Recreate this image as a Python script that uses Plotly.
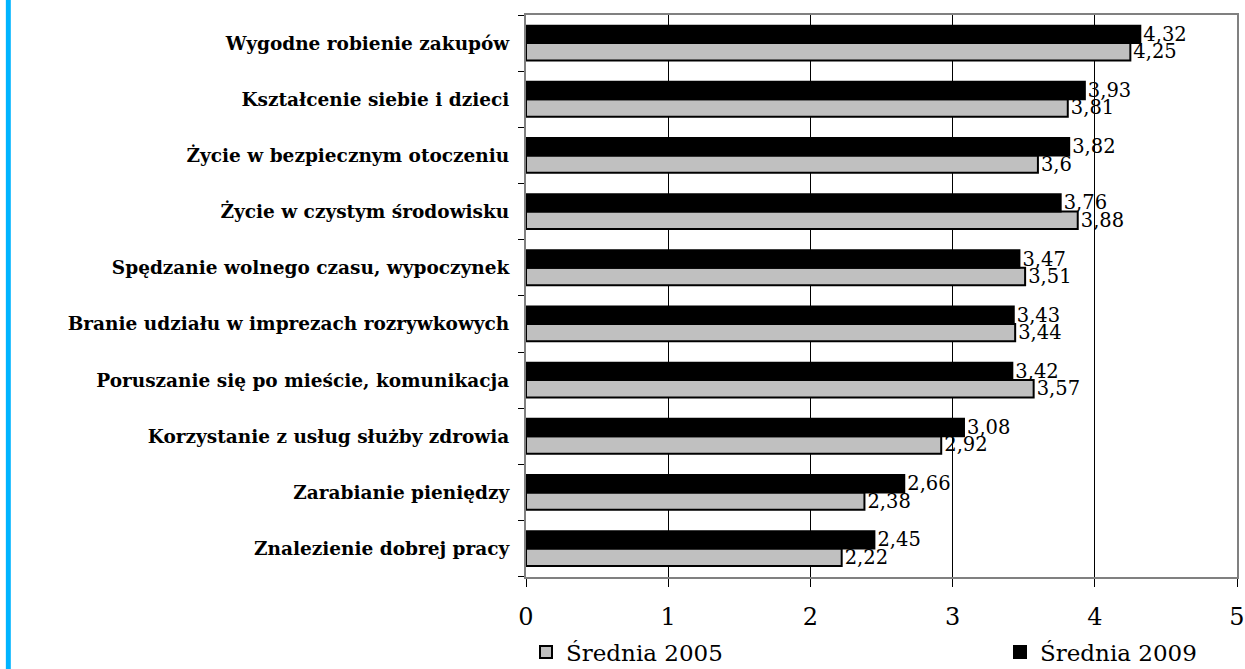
import plotly.graph_objects as go

# Data (top to bottom as in the reference)
categories = [
    "Wygodne robienie zakupów",
    "Kształcenie siebie i dzieci",
    "Życie w bezpiecznym otoczeniu",
    "Życie w czystym środowisku",
    "Spędzanie wolnego czasu, wypoczynek",
    "Branie udziału w imprezach rozrywkowych",
    "Poruszanie się po mieście, komunikacja",
    "Korzystanie z usług służby zdrowia",
    "Zarabianie pieniędzy",
    "Znalezienie dobrej pracy",
]
srednia_2005 = [4.25, 3.81, 3.6, 3.88, 3.51, 3.44, 3.57, 2.92, 2.38, 2.22]
srednia_2009 = [4.32, 3.93, 3.82, 3.76, 3.47, 3.43, 3.42, 3.08, 2.66, 2.45]
x_ticks = [0, 1, 2, 3, 4, 5]
series_names = ["Średnia 2005", "Średnia 2009"]

def fmt(v):
    return str(v).replace(".", ",")

cats = categories[::-1]
v05 = srednia_2005[::-1]
v09 = srednia_2009[::-1]

SERIF = "DejaVu Serif"
W, H = 1245, 669
ML, MR, MT, MB = 526, 0, 15, 92
PW = W - ML - MR
PH = H - MT - MB

fig = go.Figure()
fig.add_trace(go.Bar(
    y=cats, x=v05, orientation="h", name=series_names[0], legend="legend",
    marker=dict(color="#C0C0C0", line=dict(color="black", width=2)),
    text=[fmt(v) for v in v05], textposition="outside",
    textfont=dict(family=SERIF, size=19.5, color="black"),
    constraintext="none", cliponaxis=False,
))
fig.add_trace(go.Bar(
    y=cats, x=v09, orientation="h", name=series_names[1], legend="legend2",
    marker=dict(color="black", line=dict(color="black", width=2)),
    text=[fmt(v) for v in v09], textposition="outside",
    textfont=dict(family=SERIF, size=19.5, color="black"),
    constraintext="none", cliponaxis=False,
))

legend_common = dict(
    orientation="h", xref="container", yref="container",
    xanchor="left", y=(H - 652) / H, yanchor="middle",
    font=dict(family=SERIF, size=23, color="black"),
    itemwidth=30, bgcolor="rgba(0,0,0,0)",
)

fig.update_layout(
    width=W, height=H,
    margin=dict(l=ML, r=MR, t=MT, b=MB),
    paper_bgcolor="white", plot_bgcolor="white",
    barmode="group", bargap=0.38, bargroupgap=0,
    font=dict(family=SERIF, color="black"),
    showlegend=True,
    legend=dict(x=526 / W, **legend_common),
    legend2=dict(x=1000 / W, **legend_common),
    shapes=[dict(
        type="rect", xref="paper", yref="paper",
        x0=-ML / PW, x1=(-ML + 5) / PW,
        y0=-(MB + 5) / PH, y1=1 + (MT + 5) / PH,
        fillcolor="#00B4FF", line=dict(width=0), layer="above",
    )],
)

fig.update_xaxes(
    range=[0, 5], tickvals=x_ticks, ticktext=[str(t) for t in x_ticks],
    showgrid=True, gridcolor="black", gridwidth=1, zeroline=False,
    showline=True, mirror=True, linecolor="#808080", linewidth=2,
    ticks="outside", ticklen=8, tickcolor="black", tickwidth=1,
    tickfont=dict(family=SERIF, size=24, color="black"),
    ticklabelstandoff=9, ticklabeloverflow="allow",
)
fig.update_yaxes(
    type="category", showgrid=False, zeroline=False,
    showline=True, mirror=True, linecolor="#808080", linewidth=2,
    ticks="outside", tickson="boundaries", ticklen=6, tickcolor="black",
    tickfont=dict(family=SERIF, size=18.5, color="black", weight="bold"),
    ticklabelstandoff=11,
)

fig.write_html(
    "out.html",
    config={"displayModeBar": False},
    post_script="document.body.style.margin='0';document.body.style.overflow='hidden';",
)
